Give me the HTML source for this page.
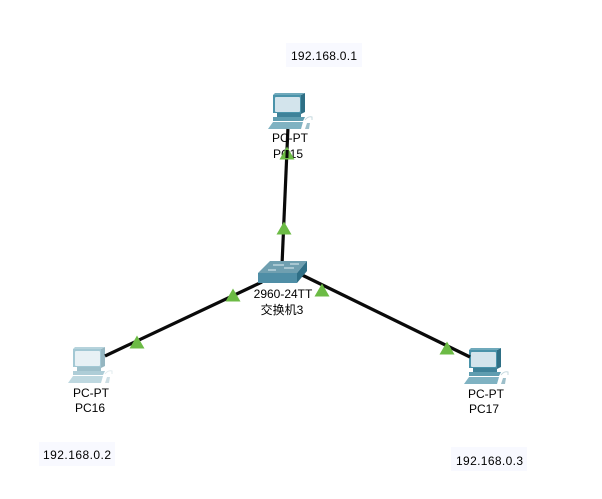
<!DOCTYPE html>
<html>
<head>
<meta charset="utf-8">
<style>
html,body{margin:0;padding:0;background:#fff;}
body{width:602px;height:499px;overflow:hidden;position:relative;}
svg{position:absolute;left:0;top:0;}
text{font-family:"Liberation Sans","Noto Sans CJK SC",sans-serif;font-size:12px;fill:#000;}
</style>
</head>
<body>
<svg width="602" height="499" viewBox="0 0 602 499" xmlns="http://www.w3.org/2000/svg">
<defs>
<g id="pc">
  <path d="M5 29 L35 29 L33 36 L0 36 Z" fill="#7fb2c2"/>
  <path d="M5 24 L37 24 L35 28 L5 28 Z" fill="#5f9db0"/>
  <rect x="9" y="20" width="24" height="4" fill="#3f8299"/>
  <path d="M5 2 L33 2 L33 20 L5 20 Z" fill="#4a93aa"/>
  <path d="M33 2 L37 0 L37 19 L33 21 Z" fill="#2e6f85"/>
  <path d="M5 2 L7 0 L37 0 L33 2 Z" fill="#6fa9bb"/>
  <rect x="7" y="4" width="25" height="15" rx="1" fill="#d3e4ec"/>
  <path d="M37 27 q3 -4 7 -3 l0 3" fill="none" stroke="#c5d8de" stroke-width="1"/>
  <path d="M37 36 L39 30 L42 30 L41 36 Z" fill="#9dbfca"/>
</g>
</defs>

<rect x="286" y="43" width="76" height="24" fill="#f8f9ff"/>
<rect x="39" y="442" width="76" height="24" fill="#f8f9ff"/>
<rect x="451" y="447" width="76" height="24" fill="#f8f9ff"/>
<text x="291" y="60" textLength="66">192.168.0.1</text>
<text x="43" y="459" textLength="68">192.168.0.2</text>
<text x="456" y="465" textLength="67">192.168.0.3</text>

<use href="#pc" x="268" y="93"/>
<g opacity="0.5"><use href="#pc" x="68" y="347"/></g>
<use href="#pc" x="464" y="348"/>

<g stroke="#0a0a0a" stroke-width="3.2" fill="none">
  <line x1="287.9" y1="129" x2="282" y2="265"/>
  <line x1="105" y1="356" x2="262" y2="282"/>
  <line x1="300" y1="274" x2="470" y2="357"/>
</g>

<g>
  <path d="M258 273 L270 261 L307 261 L297 273 Z" fill="#6f9fb0"/>
  <path d="M258 273 L297 273 L297 283 L258 283 Z" fill="#4f8ea6"/>
  <path d="M297 273 L307 261 L307 271 L297 283 Z" fill="#2f6f86"/>
  <g stroke="#dfeef2" stroke-width="1">
    <line x1="273" y1="265" x2="284" y2="265"/>
    <line x1="290" y1="264" x2="299" y2="264"/>
    <line x1="268" y1="270" x2="276" y2="270"/>
    <line x1="284" y1="268" x2="294" y2="268"/>
  </g>
</g>

<text x="290" y="142" text-anchor="middle">PC-PT</text>
<text x="288" y="158" text-anchor="middle">PC15</text>
<text x="283" y="298" text-anchor="middle">2960-24TT</text>
<text x="282" y="314" text-anchor="middle">交换机3</text>
<text x="91" y="397" text-anchor="middle">PC-PT</text>
<text x="90" y="412" text-anchor="middle">PC16</text>
<text x="486" y="398" text-anchor="middle">PC-PT</text>
<text x="484" y="413" text-anchor="middle">PC17</text>

<g fill="#6cbb45">
  <path d="M287 146.5 L294.5 159.5 L279.500 159.5 Z"/>
  <path d="M284 221.500 L291.5 234.500 L276.5 234.500 Z"/>
  <path d="M233 288.500 L240.5 301.500 L225.5 301.500 Z"/>
  <path d="M137 335.500 L144.500 348.500 L129.500 348.500 Z"/>
  <path d="M322 283.500 L329.500 296.500 L314.500 296.500 Z"/>
  <path d="M447 341.500 L454.500 354.500 L439.500 354.500 Z"/>
</g>
<line x1="287.2" y1="150" x2="286.9" y2="158" stroke="#0a0a0a" stroke-width="3"/>
</svg>
</body>
</html>
